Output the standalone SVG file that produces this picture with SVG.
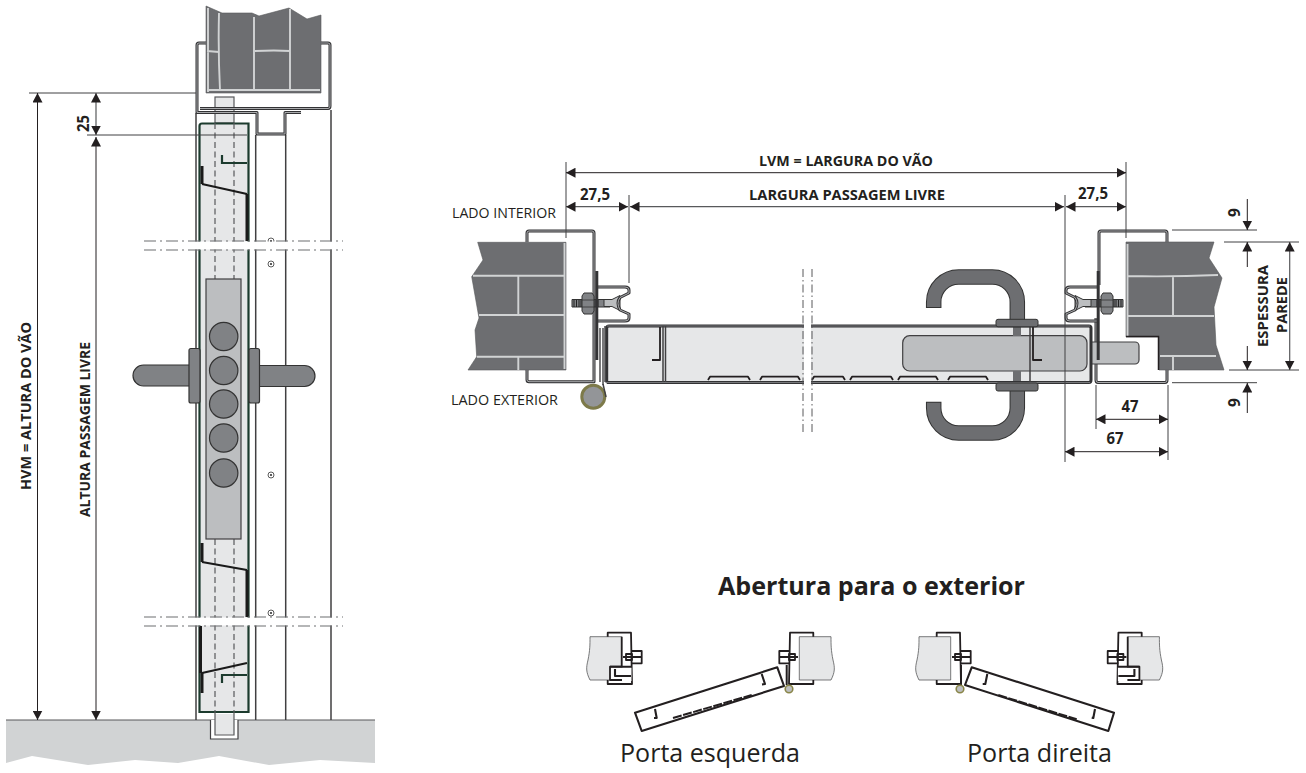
<svg xmlns="http://www.w3.org/2000/svg" xmlns:xlink="http://www.w3.org/1999/xlink" width="1306" height="773" viewBox="0 0 1306 773">
<style>
text{font-family:"Open Sans","Noto Sans","Liberation Sans",sans-serif;fill:#231f20}
.b{font-weight:700;font-size:13.5px}
.r{font-size:14px}
.d{font-weight:700;font-size:15.5px}
.dim{fill:none;stroke:#231f20;stroke-width:1;marker-start:url(#a);marker-end:url(#a)}
.dimg{fill:none;stroke:#58595b;stroke-width:1.2;marker-start:url(#a);marker-end:url(#a)}
.one{fill:none;stroke:#231f20;stroke-width:1;marker-end:url(#a)}
.ext{fill:none;stroke:#414042;stroke-width:1}
.wall{fill:#6d6e71;stroke:#58595b;stroke-width:.6}
.mortar{fill:none;stroke:#d1d3d4;stroke-width:1.9}
.prof{fill:none;stroke:#333335;stroke-width:3;stroke-linejoin:round}
.core{fill:none;stroke:#c8c9cb;stroke-width:.8;stroke-linejoin:round}
.ln{fill:none;stroke:#414042;stroke-width:1.5}
.leaf{fill:none;stroke:#1c3b2e;stroke-width:2.2}
.blk{fill:none;stroke:#1a1a1a;stroke-width:2.2}
.blkb{fill:none;stroke:#1a1a1a;stroke-width:3}
.dash{fill:none;stroke:#58595b;stroke-width:1.2;stroke-dasharray:6 3.5}
.cl{fill:none;stroke:#6d6e71;stroke-width:1.2;stroke-dasharray:12 4 2 4}
.clv{fill:none;stroke:#58595b;stroke-width:1;stroke-dasharray:8 3 1.5 3}
.bolt{fill:#808285;stroke:#333;stroke-width:1}
.plate{fill:#bcbec0;stroke:#414042;stroke-width:1.2}
.scr{fill:#fff;stroke:#333;stroke-width:.8}
.s{fill:none;stroke:#231f20;stroke-width:1.8;stroke-linejoin:round}
.sb{fill:none;stroke:#231f20;stroke-width:2.1;stroke-linejoin:round}
.sw{fill:#e6e7e8;stroke:#58595b;stroke-width:.8}
</style>
<defs>
<marker id="a" markerUnits="userSpaceOnUse" markerWidth="10" markerHeight="10" refX="9.5" refY="5" orient="auto-start-reverse"><path d="M0 0L9.5 5L0 10Z" fill="#231f20"/></marker>
<g id="screw"><circle r="3" class="scr"/><circle r="1.1" fill="#333"/></g>
<g id="clip">
<path class="bolt" d="M572 299.5h38v7.5h-38z"/>
<path d="M574 300v7M576.5 300v7M579 300v7M581 300v7M595 300v7M598 300v7" stroke="#222" stroke-width="1"/>
<path d="M604 299.5h8l8-4v15l-8-4h-8z" fill="#bcbec0" stroke="#333" stroke-width="1"/>
<path class="bolt" d="M584 293h8l2 3v15l-2 3h-8l-2-3v-15z"/>
<path d="M582 300h12M582 307h12" stroke="#333" stroke-width=".8"/>
<path class="prof" d="M597 287H625Q629 287 629 290V293L620 297.5Q616 303 620 310L629 314V318Q629 321 625 321H597"/>
<path class="core" d="M597 287H625Q629 287 629 290V293L620 297.5Q616 303 620 310L629 314V318Q629 321 625 321H597"/>
<path d="M596.8 271V360" stroke="#333335" stroke-width="3" fill="none"/>
</g>
<g id="sj">
<path class="sw" d="M590 636.7H621.7V680H590C586 672 586 668 588 660C590 650 590 645 590 636.7Z"/>
<path class="s" d="M607.7 636.7V632.7H631L632 684H607.7V680"/>
<path class="s" stroke-width="1.4" d="M631 651H641.7V663.3H631M623 657H641M626 654h6v6h-6z"/>
</g>
<g id="sn">
<use href="#sj"/>
<path d="M610 666.7H631.5V681H610Z" fill="#fff"/>
<path class="s" d="M621.7 636.7V666.7H610V680H622"/>
<path class="sb" d="M610 666.7H632M615 669V676H631"/>
</g>
</defs>
<rect width="1306" height="773" fill="#fff"/>

<g id="elevation">
<path id="floor" d="M6 720H375V763L320 760L269 765L219 756L178 763L135 760L88 765L32 756L6 763Z" fill="#d1d3d4"/>
<path d="M6 720H375" stroke="#58595b" stroke-width="1.2"/>
<path d="M210.5 720V739H238V720" fill="#fff" stroke="#414042" stroke-width="1.2"/>
<path d="M215 714V735H234V714" fill="#e6e7e8" stroke="#58595b" stroke-width="1.2"/>
<path id="wall-top" class="wall" d="M206 6L222 13H252L259 16L289 8L307 19L321 15V93H206Z"/>
<path class="mortar" d="M208 8V92M219 13Q218 50 220 90M254 17V91M290 9V90M207 51L219 52M255 51Q275 50 290 51M207 90H320"/>
<path class="ln" d="M196 113V720M255.7 135V720M285.7 135V720M331 110V720"/>
<rect x="215" y="97" width="19" height="26" fill="#e6e7e8" stroke="#58595b" stroke-width="1.2"/>
<path d="M206 43H199Q197 43 197 45V112.5H257V134H285V112.5H301" class="prof"/>
<path d="M206 43H199Q197 43 197 45V112.5H257V134H285V112.5H301" class="core"/>
<path d="M321 43H328Q330 43 330 45V106Q330 108.5 328 108.5H200" class="prof"/>
<path d="M321 43H328Q330 43 330 45V106Q330 108.5 328 108.5H200" class="core"/>
<rect x="199.5" y="123.5" width="49" height="588.5" fill="#e6e7e8"/>
<path class="leaf" d="M199.5 712V126Q199.5 123.5 202 123.5H248.5V712Z"/>
<path d="M215 123V279M234 123V279M215 539V714M234 539V714" class="dash"/>
<path class="leaf" d="M222 155V163H247"/>
<path class="leaf" d="M222 683V675H247"/>
<path class="blkb" d="M202 166V184M247 194V241M202 543V562M247 570V617M200.5 626V673M202 673V693"/>
<path class="blk" d="M202 184L247 194M202 562L247 570M202 673L247 663"/>
<rect x="206" y="279" width="35" height="260" class="plate"/>
<g fill="#808285" stroke="#333" stroke-width="1.2">
<circle cx="223.7" cy="336.5" r="14.2"/><circle cx="223.7" cy="370.5" r="14.2"/><circle cx="223.7" cy="404" r="14.2"/><circle cx="223.7" cy="438" r="14.2"/><circle cx="223.7" cy="473" r="14.2"/>
<path d="M190 365H143.5A10.5 10.5 0 0 0 143.5 386H190Z"/>
<path d="M258 365.5H304.5A10.5 10.5 0 0 1 304.5 386.5H258Z"/>
<rect x="189" y="348.5" width="11" height="54.5" rx="2"/>
<rect x="249" y="348.5" width="10.5" height="54.5" rx="2"/>
</g>
<use href="#screw" x="271" y="264"/><use href="#screw" x="271" y="475"/><use href="#screw" x="271" y="613"/><use href="#screw" x="271" y="241"/>
<rect x="144" y="241.5" width="199" height="8" fill="#fff"/>
<rect x="144" y="617.5" width="199" height="8" fill="#fff"/>
<path class="cl" d="M144 241H343M144 250H343M144 617H343M144 626H343"/>
</g>

<g id="section">
<path class="wall" d="M477.7 242.3H566V370H468L476.7 356.7L475 330L479 318L471.7 276.7L483 260Z"/>
<path class="mortar" d="M473 275.7H564M479 315H564M477 356.7H564M518.3 276V315M518.3 357V370M564.5 243V369"/>
<path class="wall" d="M1126 242H1214L1209 258L1222 278L1214 307L1216 345L1224 370H1159V337H1126Z"/>
<path class="mortar" d="M1128 276Q1170 277 1218 275M1128 316H1214M1160 356H1216M1173 276V316M1173 356V370M1127.5 244V336"/>
<path d="M1126 336.5H1158.5V370" fill="none" stroke="#231f20" stroke-width="1.5"/>
<path id="frame-left" class="prof" d="M527 242V233Q527 231 529 231H592Q594 231 594 233V381.7H529Q527 381.7 527 379.7V370"/>
<path class="core" d="M527 242V233Q527 231 529 231H592Q594 231 594 233V381.7H529Q527 381.7 527 379.7V370"/>
<path id="frame-right" class="prof" d="M1167 242V233Q1167 231 1165 231H1101Q1099 231 1099 233V285M1096 318V380Q1096 382.5 1098 382.5H1165Q1167 382.5 1167 380V370"/>
<path class="core" d="M1167 242V233Q1167 231 1165 231H1101Q1099 231 1099 233V285M1096 318V380Q1096 382.5 1098 382.5H1165Q1167 382.5 1167 380V370"/>
<rect x="1087" y="342" width="52" height="22" rx="4" class="plate" stroke-width="1"/>
<rect x="606.7" y="326" width="484.3" height="56.5" fill="#e6e7e8"/>
<rect x="902.7" y="335.7" width="184.3" height="35.3" rx="7" class="plate" stroke-width="1"/>
<rect x="1013" y="327" width="8" height="9" fill="#6d6e71"/><rect x="1013" y="371" width="8" height="10" fill="#6d6e71"/>
<path class="prof" d="M606.7 382.5V328Q606.7 326 609 326H1089Q1091 326 1091 328V380Q1091 382.5 1089 382.5H606.7" stroke-width="2.4"/>
<path d="M607 326H1090M607 382.5H1090" stroke="#a7a9ac" stroke-width=".6"/>
<path d="M600 328V382M603 328V385M605 326V382" fill="none" stroke="#414042" stroke-width="1.4"/>
<path d="M663 326V382M665.5 326V382M1030 326V382" stroke="#414042" stroke-width="1.5" fill="none"/>
<path class="s" stroke-width="1.5" d="M660 327V360H652"/>
<path class="s" stroke-width="1.5" d="M1033 327V360H1042"/>
<path class="s" stroke-width="1.2" d="M708 380L710 376.7H748L750 380M760 380L762 376.7H798L800 380M812 380L814 376.7H843L845 380M850 380L852 376.7H891L893 380M898 380L900 376.7H936L938 380M948 380L950 376.7H986L988 380"/>
<circle cx="593.3" cy="396.7" r="11.5" fill="#939598" stroke="#7d7a4a" stroke-width="3"/>
<path d="M603 384L606 397" stroke="#414042" stroke-width="1.5"/>
<use href="#clip"/>
<use href="#clip" transform="translate(1695 0) scale(-1 1)"/>
<rect x="804" y="322" width="7" height="64" fill="#fff"/>
<path class="clv" d="M803 269V435M812 269V435"/>
<g id="handle-top">
<path d="M933.7 308V302A25 25 0 0 1 958.7 277H992.3A25 25 0 0 1 1017.3 302V320" fill="none" stroke="#333" stroke-width="15.5"/>
<path d="M933.7 307V302A25 25 0 0 1 958.7 277H992.3A25 25 0 0 1 1017.3 302V320" fill="none" stroke="#6d6e71" stroke-width="13.5"/>
<rect x="996" y="319.3" width="42" height="7.5" rx="2" class="bolt" style="fill:#6d6e71"/>
</g>
<g id="handle-bottom">
<path d="M933.7 401.7V408A25 25 0 0 0 958.7 433H992.3A25 25 0 0 0 1017.3 408V390" fill="none" stroke="#333" stroke-width="15.5"/>
<path d="M933.7 402.7V408A25 25 0 0 0 958.7 433H992.3A25 25 0 0 0 1017.3 408V390" fill="none" stroke="#6d6e71" stroke-width="13.5"/>
<rect x="996" y="383" width="42" height="8" rx="2" class="bolt" style="fill:#6d6e71"/>
</g>
</g>

<g id="opening-left">
<use href="#sn"/>
<use href="#sj" transform="translate(1421 0) scale(-1 1)"/>
<path d="M786.7 665V685" stroke="#231f20" stroke-width="2"/>
<circle cx="789" cy="689" r="3.8" fill="#bcbec0" stroke="#8a8648" stroke-width="1.6"/>
<path class="sb" d="M635 712.7L777.3 667.3L784 686L641.7 731ZM761.7 674L765 684L762 684.5M655 709L656.7 718L654 718"/>
<path d="M673 718L751.7 695" stroke="#231f20" stroke-width="2" stroke-dasharray="9 1.5"/>
</g>
<g id="opening-right">
<use href="#sj" transform="translate(329 0)"/>
<use href="#sn" transform="translate(1749.4 0) scale(-1 1)"/>
<path d="M961 665V685" stroke="#231f20" stroke-width="2"/>
<circle cx="960" cy="689" r="3.8" fill="#bcbec0" stroke="#8a8648" stroke-width="1.6"/>
<path class="sb" d="M971.7 667.3L1114 712.7L1108.3 731L965 685ZM987.3 674L985.3 684L982.7 684M1095 709L1093.3 718L1091.7 717.7"/>
<path d="M998.3 695L1076.7 719.3" stroke="#231f20" stroke-width="2" stroke-dasharray="9 1.5"/>
</g>

<g id="connectors">
<path class="ext" d="M29 93H196M87 135H247"/>
<path class="dim" d="M37.5 93V720"/>
<path class="dimg" d="M96 93V135"/>
<path class="one" stroke-width="1.2" d="M96 428V137"/>
<path class="one" stroke-width="1.2" d="M96 428V720"/>
<path class="ext" d="M566 162V238M1126 162V238M629 195V283M1065 195V462M1096 385V429M1168 385V460"/>
<path class="dim" d="M566 172.7H1126"/>
<path class="dimg" d="M566 206.7H628"/>
<path class="dimg" d="M630 206.7H1064"/>
<path class="dimg" d="M1066 206.7H1126"/>
<path class="ext" d="M1172 230H1257M1224 242H1299M1229 370H1299M1172 382.7H1257"/>
<path class="one" d="M1247.3 199V230"/>
<path class="one" d="M1247.3 267V242"/>
<path class="one" d="M1247.3 346V370"/>
<path class="one" d="M1247.3 413V383"/>
<path class="dimg" d="M1289.7 242V370"/>
<path class="dim" d="M1096 419.3H1168"/>
<path class="dim" d="M1065 451.7H1168"/>
</g>

<g id="labels">
<text class="b" transform="translate(30.5 490) rotate(-90)" textLength="168" lengthAdjust="spacingAndGlyphs">HVM = ALTURA DO VÃO</text>
<text class="b" transform="translate(89.5 517) rotate(-90)" textLength="175" lengthAdjust="spacingAndGlyphs">ALTURA PASSAGEM LIVRE</text>
<text class="d" transform="translate(89 132) rotate(-90)" textLength="17" lengthAdjust="spacingAndGlyphs">25</text>
<text class="b" x="759" y="165.7" textLength="174" lengthAdjust="spacingAndGlyphs">LVM = LARGURA DO VÃO</text>
<text class="b" x="749" y="200" textLength="196" lengthAdjust="spacingAndGlyphs">LARGURA PASSAGEM LIVRE</text>
<text class="d" x="580" y="200" textLength="30" lengthAdjust="spacingAndGlyphs">27,5</text>
<text class="d" x="1078" y="199" textLength="30" lengthAdjust="spacingAndGlyphs">27,5</text>
<text class="r" x="452" y="217.7" textLength="104" lengthAdjust="spacingAndGlyphs">LADO INTERIOR</text>
<text class="r" x="451" y="405" textLength="107" lengthAdjust="spacingAndGlyphs">LADO EXTERIOR</text>
<text class="d" transform="translate(1240 217) rotate(-90)">9</text>
<text class="d" transform="translate(1240 407) rotate(-90)">9</text>
<text class="b" transform="translate(1268 347) rotate(-90)" textLength="82" lengthAdjust="spacingAndGlyphs">ESPESSURA</text>
<text class="b" transform="translate(1287 333) rotate(-90)" textLength="56" lengthAdjust="spacingAndGlyphs">PAREDE</text>
<text class="d" text-anchor="middle" x="1130" y="411.7" textLength="17" lengthAdjust="spacingAndGlyphs">47</text>
<text class="d" text-anchor="middle" x="1115" y="444" textLength="17" lengthAdjust="spacingAndGlyphs">67</text>
<text x="871.5" y="595" text-anchor="middle" font-size="25" font-weight="700" textLength="307" lengthAdjust="spacingAndGlyphs">Abertura para o exterior</text>
<text x="620" y="762" font-size="26" textLength="180" lengthAdjust="spacingAndGlyphs">Porta esquerda</text>
<text x="967" y="762" font-size="26" textLength="145" lengthAdjust="spacingAndGlyphs">Porta direita</text>
</g>
</svg>
